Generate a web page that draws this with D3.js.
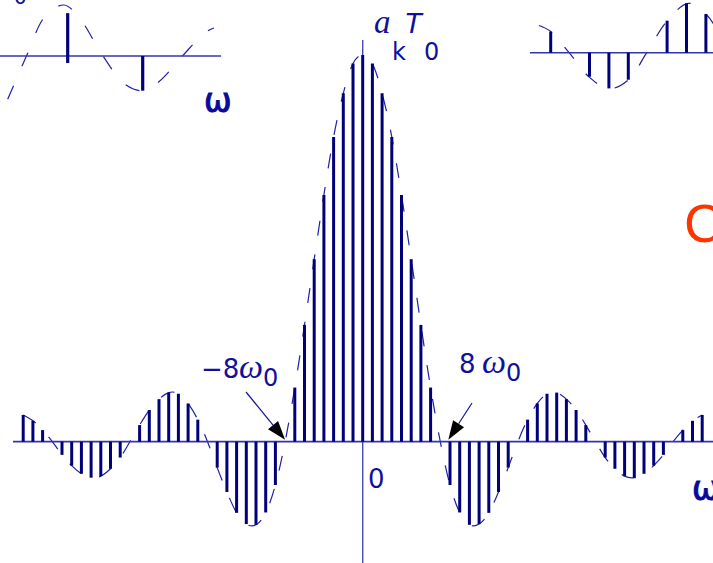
<!DOCTYPE html>
<html>
<head>
<meta charset="utf-8">
<script src="https://cdn.jsdelivr.net/npm/d3@7"></script>
<style>
  html, body { margin: 0; padding: 0; background: #fff; }
  svg { display: block; }
</style>
</head>
<body>
<script>
// Fourier series coefficients a_k·T0 of a periodic square wave (normalised to a_0·T0 = 1)
const kValues = d3.range(-35, 36);
const akT0 = [
  0.069, 0.054, 0.030, 0, -0.034, -0.062, -0.083, -0.093, -0.089, -0.070, -0.041, 0,
  0.043, 0.082, 0.110, 0.127, 0.124, 0.099, 0.057, 0,
  -0.067, -0.130, -0.184, -0.213, -0.215, -0.183, -0.112, 0,
  0.140, 0.302, 0.472, 0.638, 0.788, 0.901, 0.978,
  1.000,
  0.978, 0.901, 0.788, 0.638, 0.472, 0.302, 0.140,
  0, -0.112, -0.183, -0.215, -0.213, -0.184, -0.130, -0.067,
  0, 0.057, 0.099, 0.124, 0.127, 0.110, 0.082, 0.043,
  0, -0.041, -0.070, -0.089, -0.093, -0.083, -0.062, -0.034,
  0, 0.030, 0.054, 0.069
];
const zeroLabels = ["\u22128", "8"];
const zeroHarmonics = [-8, 8];

// Neighbouring sketches (partly visible at the top of the slide)
const leftInsetIndex = [0, 1];
const leftInsetValues = [0.84, -0.68];
const leftInsetCurve = [[-0.8, -0.85], [-0.55, 0], [-0.3, 0.78], [-0.05, 1.0], [0.15, 0.76],
  [0.47, 0], [0.76, -0.55], [1.0, -0.68], [1.22, -0.5], [1.53, 0], [1.83, 0.46], [1.95, 0.55]];

const rightInsetIndex = [0, 2, 3, 4, 6, 7, 8];
const rightInsetValues = [0.425, -0.486, -0.723, -0.547, 0.648, 1.0, 0.783];
const rightInsetCurve = [[-0.6, 0.55], [0, 0.43], [0.95, 0], [2, -0.5], [3, -0.73], [4, -0.55],
  [4.95, 0], [6, 0.64], [7.1, 1.0], [8, 0.78], [8.4, 0.58]];

const W = 713, H = 563;
const navy = "#00007a", lineBlue = "#3434b0", textBlue = "#10109c";
const sans = "'DejaVu Sans', Verdana, sans-serif";
const serif = "'Liberation Serif', 'Times New Roman', serif";

const svg = d3.select("body").append("svg")
  .attr("width", W).attr("height", H)
  .style("font-family", sans);

// ---- main spectrum ----
const x = d3.scaleLinear().domain([-35, 35]).range([362.7 - 35 * 9.7, 362.7 + 35 * 9.7]);
const y = d3.scaleLinear().domain([0, 1]).range([441.7, 55]);

// vertical axis
svg.append("line")
  .attr("x1", x(0)).attr("x2", x(0)).attr("y1", 40).attr("y2", H)
  .attr("stroke", "#4646c0").attr("stroke-width", 1.4);

// dashed sinc envelope through the coefficients
const envelope = d3.line().x((d, i) => x(kValues[i])).y(d => y(d)).curve(d3.curveNatural);
svg.append("path")
  .attr("d", envelope(akT0))
  .attr("fill", "none").attr("stroke", "#2020a8").attr("stroke-width", 1.2)
  .attr("stroke-dasharray", "15 19");

// baseline
svg.append("line")
  .attr("x1", 13).attr("x2", W).attr("y1", y(0)).attr("y2", y(0))
  .attr("stroke", lineBlue).attr("stroke-width", 1.8);

// stems
svg.append("g").selectAll("line")
  .data(kValues.map((k, i) => ({ k, v: akT0[i] })).filter(d => d.v !== 0))
  .join("line")
  .attr("x1", d => x(d.k)).attr("x2", d => x(d.k))
  .attr("y1", y(0)).attr("y2", d => y(d.v))
  .attr("stroke", navy).attr("stroke-width", 3);

// y label a_k T_0
const lab = svg.append("g").attr("fill", textBlue);
lab.append("text").attr("x", 374).attr("y", 33)
  .style("font-family", serif).style("font-style", "italic")
  .style("font-size", "33px").text("a");
lab.append("text").attr("x", 392).attr("y", 60).style("font-size", "24px").text("k");
lab.append("text").attr("x", 404).attr("y", 33).style("font-style", "italic")
  .style("font-family", "'Liberation Sans', Arial, sans-serif")
  .style("font-size", "29px").text("T");
lab.append("text").attr("x", 424).attr("y", 60).style("font-size", "24px").text("0");

// origin label
lab.append("text").attr("x", 368).attr("y", 488).style("font-size", "26px").text("0");

// zero-crossing annotations ±8ω0
const ann = svg.append("g");
const annPos = [
  { tx: 201, ty: 378, tip: [x(zeroHarmonics[0]), y(0) - 2], tail: [246, 392], wx: 239, sx: 263 },
  { tx: 459, ty: 373, tip: [x(zeroHarmonics[1]) + 8, y(0) - 2], tail: [472, 403], wx: 482, sx: 506 }
];
annPos.forEach((p, i) => {
  const g = ann.append("g").attr("fill", textBlue);
  g.append("text").attr("x", p.tx).attr("y", p.ty).style("font-size", "26px").text(zeroLabels[i]);
  g.append("text").attr("x", p.wx).attr("y", p.ty)
    .style("font-family", serif).style("font-style", "italic")
    .style("font-size", "34px").text("\u03c9");
  g.append("text").attr("x", p.sx).attr("y", p.ty + 8).style("font-size", "24px").text("0");
  // arrow shaft and head
  const dx = p.tip[0] - p.tail[0], dy = p.tip[1] - p.tail[1];
  const len = Math.hypot(dx, dy), ux = dx / len, uy = dy / len;
  const headL = 19, headW = 6.5;
  const bx = p.tip[0] - ux * headL, by = p.tip[1] - uy * headL;
  ann.append("line").attr("x1", p.tail[0]).attr("y1", p.tail[1]).attr("x2", bx).attr("y2", by)
    .attr("stroke", "#1414a0").attr("stroke-width", 1.2);
  ann.append("path")
    .attr("d", `M${p.tip[0]},${p.tip[1]}L${bx - uy * headW},${by + ux * headW}L${bx + uy * headW},${by - ux * headW}Z`)
    .attr("fill", "#000");
});

// ---- top-left sketch ----
const xL = d3.scaleLinear().domain([0, 1]).range([67.7, 142.7]);
const yL = d3.scaleLinear().domain([0, 1]).range([56, 5]);
svg.append("path")
  .attr("d", d3.line().x(d => xL(d[0])).y(d => yL(d[1])).curve(d3.curveCatmullRom)(leftInsetCurve))
  .attr("fill", "none").attr("stroke", "#2020a8").attr("stroke-width", 1.2)
  .attr("stroke-dasharray", "15 21");
svg.append("line").attr("x1", 0).attr("x2", 221).attr("y1", yL(0)).attr("y2", yL(0))
  .attr("stroke", lineBlue).attr("stroke-width", 1.6);
svg.append("g").selectAll("line").data(leftInsetIndex).join("line")
  .attr("x1", d => xL(d)).attr("x2", d => xL(d))
  .attr("y1", (d, i) => yL(0) + (leftInsetValues[i] > 0 ? 7 : 0))
  .attr("y2", (d, i) => yL(leftInsetValues[i]))
  .attr("stroke", navy).attr("stroke-width", 3.2);
svg.append("text").attr("x", 14).attr("y", 3.5).attr("fill", textBlue)
  .style("font-size", "20px").text("0");

// ω axis names of the neighbouring sketches
[[204, 112], [692, 500]].forEach(([tx, ty]) => {
  svg.append("text").attr("x", tx).attr("y", ty).attr("fill", "#0a0a9a")
    .attr("stroke", "#0a0a9a").attr("stroke-width", 1)
    .style("font-size", "33px").text("\u03c9");
});

// ---- top-right sketch ----
const xR = d3.scaleLinear().domain([0, 1]).range([550.7, 570.1]);
const yR = d3.scaleLinear().domain([0, 1]).range([52.7, 3.3]);
svg.append("path")
  .attr("d", d3.line().x(d => xR(d[0])).y(d => yR(d[1])).curve(d3.curveCatmullRom)(rightInsetCurve))
  .attr("fill", "none").attr("stroke", "#2020a8").attr("stroke-width", 1.2)
  .attr("stroke-dasharray", "15 19");
svg.append("line").attr("x1", 530).attr("x2", W).attr("y1", yR(0)).attr("y2", yR(0))
  .attr("stroke", lineBlue).attr("stroke-width", 1.6);
svg.append("g").selectAll("line").data(rightInsetIndex).join("line")
  .attr("x1", d => xR(d)).attr("x2", d => xR(d))
  .attr("y1", yR(0)).attr("y2", (d, i) => yR(rightInsetValues[i]))
  .attr("stroke", navy).attr("stroke-width", 3);

// ---- other slide text at the edge ----
svg.append("text").attr("x", 684).attr("y", 241.5).attr("fill", "#ff3300")
  .style("font-family", "'Liberation Sans', Arial, sans-serif")
  .style("font-size", "54px").text("C");
</script>
</body>
</html>
